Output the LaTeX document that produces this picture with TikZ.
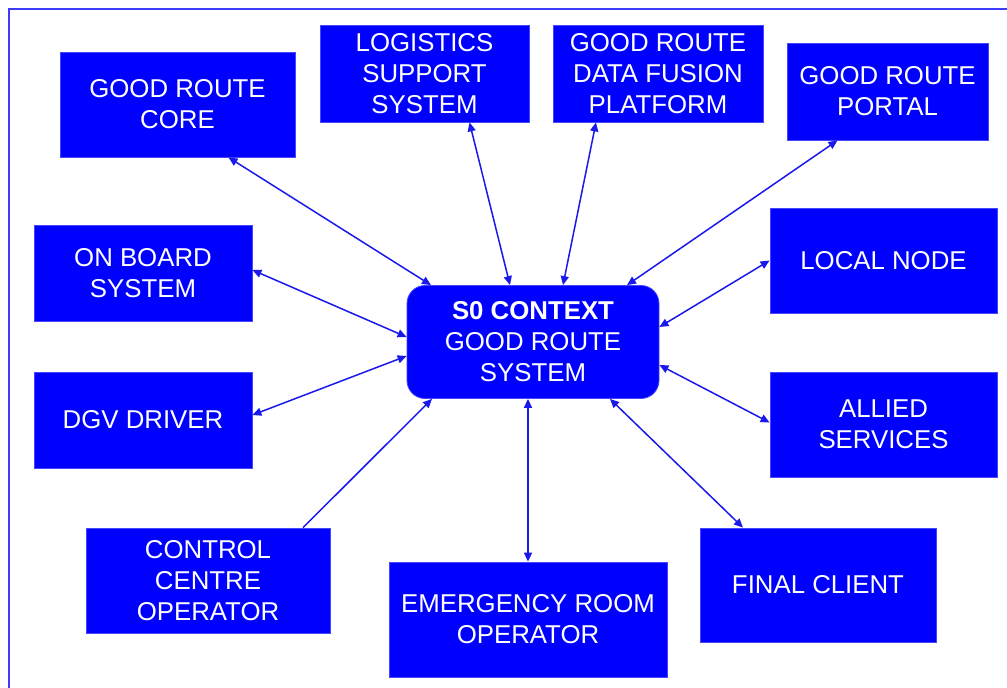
\documentclass[tikz,border=0pt]{standalone}
\usepackage{fontspec}
\setmainfont{Liberation Sans}
\usepackage{xcolor}
\usepackage{tikz}
\usetikzlibrary{calc,arrows.meta}
\definecolor{boxblue}{RGB}{0, 0, 255}
\definecolor{edgeblue}{RGB}{70, 70, 255}
\definecolor{linkblue}{RGB}{25, 25, 235}
\definecolor{frameblue}{RGB}{60, 60, 250}
\tikzset{
  box/.style={fill=boxblue, draw=edgeblue, line width=0.4pt, text=white,
    align=center, font=\fontsize{12.9}{15.5}\selectfont, inner sep=0pt},
  sz/.style 2 args={minimum width=#1*0.5pt, minimum height=#2*0.5pt},
  link/.style={linkblue, line width=0.75pt}
}

\begin{document}
\begin{tikzpicture}[x=0.5pt, y=-0.5pt, >={Triangle[length=4.5pt,width=4pt]}]
  \clip (0,0) rectangle (1007,687);
  \fill[white] (0,0) rectangle (1007,687);
  % Outer frame
  \draw[frameblue, line width=1pt] (9,9) rectangle (1020,700);

  % Central system
  \node[box, sz={252}{113}, rounded corners=9pt] (ctx) at (533,342)
    {\textbf{S0 CONTEXT}\\GOOD ROUTE\\SYSTEM};

  % Surrounding actors
  \node[box, sz={235}{105}] (core) at (177.5,104.5) {GOOD ROUTE\\CORE};
  \node[box, sz={209}{97}] (logi) at (424.5,73.5) {LOGISTICS\\SUPPORT\\SYSTEM};
  \node[box, sz={210}{97}] (fusion) at (658,73.5) {GOOD ROUTE\\DATA FUSION\\PLATFORM};
  \node[box, sz={201}{97}] (portal) at (887.5,91.5) {GOOD ROUTE\\PORTAL};
  \node[box, sz={227}{105}] (local) at (883.5,260.5) {LOCAL NODE};
  \node[box, sz={218}{96}] (onboard) at (143,273) {ON BOARD\\SYSTEM};
  \node[box, sz={218}{96}] (dgv) at (143,420) {DGV DRIVER};
  \node[box, sz={227}{105}] (allied) at (883.5,424.5) {ALLIED\\SERVICES};
  \node[box, sz={244}{105}] (control) at (208,580.5) {CONTROL\\CENTRE\\OPERATOR};
  \node[box, sz={278}{115}] (emerg) at (528,619.5) {EMERGENCY ROOM\\OPERATOR};
  \node[box, sz={236}{114}] (final) at (818,585) {FINAL CLIENT};

  % Links to the context
  \draw[link, <->] ($(core.south)+(51,0)$) -- ($(ctx.north)+(-102,0)$);
  \draw[link, <->] ($(logi.south)+(45,0)$) -- ($(ctx.north)+(-23,0)$);
  \draw[link, <->] ($(fusion.south)+(-62,0)$) -- ($(ctx.north)+(30,0)$);
  \draw[link, <->] ($(portal.south)+(-50,0)$) -- ($(ctx.north)+(94,0)$);
  \draw[link, <->] (local.west) -- ($(ctx.east)+(0,-15)$);
  \draw[link, <->] ($(onboard.east)+(0,-3)$) -- ($(ctx.west)+(0,-5)$);
  \draw[link, <->] ($(dgv.east)+(0,-5)$) -- ($(ctx.west)+(0,14)$);
  \draw[link, <->] ($(allied.west)+(0,-2)$) -- ($(ctx.east)+(0,23)$);
  \draw[link, ->] ($(control.north)+(95,0)$) -- ($(ctx.south)+(-101,0)$);
  \draw[link, <->] (emerg.north) -- ($(ctx.south)+(-5,0)$);
  \draw[link, <->] ($(final.north)+(-75,0)$) -- ($(ctx.south)+(77,0)$);
\end{tikzpicture}
\end{document}
